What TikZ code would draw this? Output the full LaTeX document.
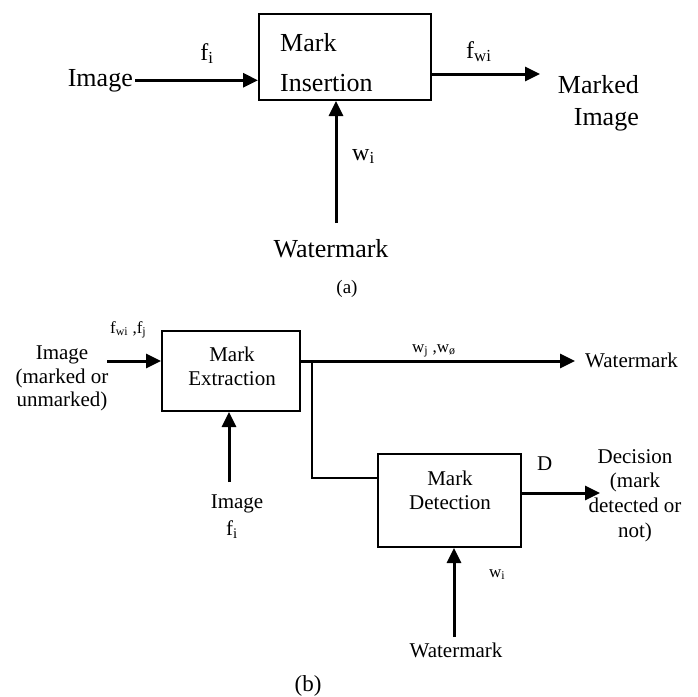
\documentclass[tikz,border=0pt]{standalone}
\usepackage{fontspec}
\setmainfont{Liberation Serif}
\usetikzlibrary{arrows.meta}

\tikzset{
  bloque/.style={draw, line width=2pt, inner sep=0pt},
  flecha/.style={line width=3pt, -{Triangle[length=15pt, width=14pt]}},
  cable/.style={line width=2pt},
  textoA/.style={inner sep=0pt, font=\fontsize{26}{40}\selectfont},
  textoB/.style={inner sep=0pt, font=\fontsize{21}{24}\selectfont},
  etiqueta/.style={inner sep=0pt, font=\fontsize{17}{20}\selectfont},
}

\begin{document}
\begin{tikzpicture}[x=1pt, y=-1pt]

\useasboundingbox (0,0) rectangle (698,696);

% Parte (a): insercion de la marca
\node[bloque, minimum width=172pt, minimum height=86pt] (ins) at (345,57) {};
\node[textoA, align=left, anchor=north west] (insTexto) at (280,33) {Mark\\Insertion};

\node[textoA, anchor=base east, inner xsep=2pt] (imagenA) at (135,86) {Image};
\node[textoA, font=\fontsize{24}{28}\selectfont, anchor=base] (fiA) at (207,60) {f\textsubscript{i}};
\draw[flecha] (imagenA.east) -- (ins.west |- imagenA.east);

\coordinate (insSal) at (431,74);
\coordinate (insPunta) at (540,74);
\draw[flecha] (insSal) -- (insPunta);
\node[textoA, font=\fontsize{24}{28}\selectfont, anchor=base west] (fwiA) at (466,58) {f\textsubscript{wi}};
\node[textoA, font=\fontsize{26}{32}\selectfont, align=right, anchor=north east] (marcada) at (639,75) {Marked\\Image};

\node[textoA, anchor=base] (marcaA) at (331,257) {Watermark};
\coordinate (marcaArriba) at (336,223);
\draw[flecha] (marcaArriba) -- (marcaArriba |- ins.south);
\node[textoA, font=\fontsize{24}{28}\selectfont, anchor=base west] (wiA) at (352,160) {w\textsubscript{i}};

\node[inner sep=0pt, font=\fontsize{19}{20}\selectfont, anchor=base] (subA) at (347,293) {(a)};

% Parte (b): extraccion y deteccion
\node[bloque, minimum width=138pt, minimum height=80pt] (ext) at (231,371) {};
\node[textoB, align=center, anchor=north] (extTexto) at (232,347) {Mark\\Extraction};

\node[textoB, font=\fontsize{21}{23.5}\selectfont, align=center, anchor=north] (imagenB) at (62,346) {Image\\(marked or\\unmarked)};
\node[etiqueta, anchor=base west] (fwiB) at (110,333) {f\textsubscript{wi} ,f\textsubscript{j}};
\coordinate (extEnt) at (107,361);
\draw[flecha] (extEnt) -- (extEnt -| ext.west);

\node[textoB, anchor=base] (imagenC) at (237,508) {Image};
\node[textoB, anchor=base] (fiB) at (232,535) {f\textsubscript{i}};
\coordinate (extAbajo) at (229,482);
\draw[flecha] (extAbajo) -- (extAbajo |- ext.south);

% Salida de la marca extraida
\coordinate (extSal) at (300,361);
\coordinate (extPunta) at (575,361);
\draw[flecha] (extSal) -- (extPunta);
\node[etiqueta, anchor=base west] (wjB) at (412,352) {w\textsubscript{j} ,w\textsubscript{ø}};
\node[textoB, anchor=base west] (marcaB) at (585,367) {Watermark};

% Bloque de deteccion
\node[bloque, minimum width=143pt, minimum height=93pt] (det) at (449.5,500.5) {};
\node[textoB, align=center, anchor=north] (detTexto) at (450,471) {Mark\\Detection};

\coordinate (bifurca) at (312,361);
\coordinate (detEnt) at (378,478);
\draw[cable] (bifurca) |- (detEnt);

\coordinate (detSal) at (521,493);
\coordinate (detPunta) at (600,493);
\draw[flecha] (detSal) -- (detPunta);
\node[textoB, anchor=base west] (dB) at (537,470) {D};
\node[textoB, font=\fontsize{21}{24.7}\selectfont, align=center, anchor=north] (decision) at (635,449) {Decision\\(mark\\detected or\\not)};

\node[textoB, anchor=base] (marcaC) at (456,657) {Watermark};
\coordinate (detAbajo) at (454,637);
\draw[flecha] (detAbajo) -- (detAbajo |- det.south);
\node[etiqueta, anchor=base west] (wiB) at (489,577) {w\textsubscript{i}};

\node[inner sep=0pt, font=\fontsize{23}{24}\selectfont, anchor=base] (subB) at (308,691) {(b)};

\end{tikzpicture}
\end{document}
